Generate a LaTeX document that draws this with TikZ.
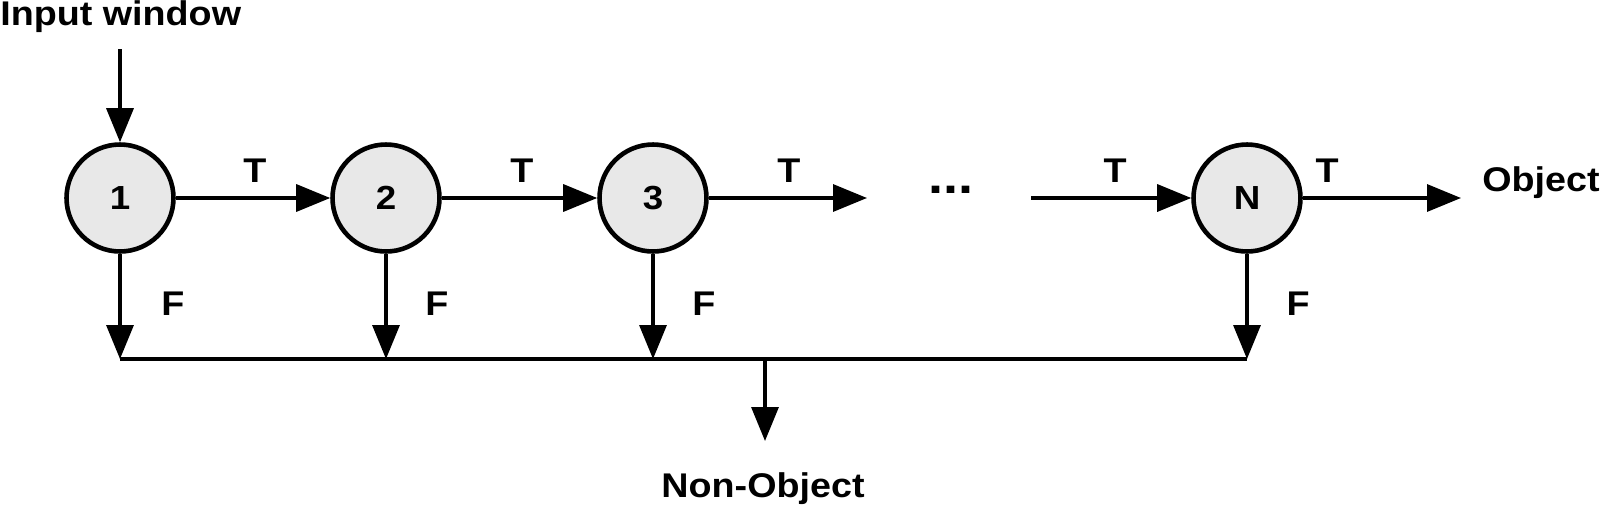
\documentclass[tikz,border=0pt]{standalone}
\usepackage{fontspec}
\setmainfont[FakeStretch=1.1]{Liberation Sans}
\usepackage{tikz}
\usetikzlibrary{arrows.meta, positioning}

\begin{document}
\begin{tikzpicture}[
    x=0.02cm, y=-0.02cm,
    stage/.style={circle, draw, line width=2.6pt, fill=gray!18, minimum size=2.14cm, inner sep=0pt, font=\fontsize{19}{19}\selectfont\bfseries},
    lbl/.style={inner sep=0pt, anchor=base, font=\fontsize{19.5}{19.5}\selectfont\bfseries},
    flow/.style={line width=1.9pt, -{Triangle[length=0.68cm, width=0.54cm]}}
]
\useasboundingbox (0,0) rectangle (1600,507);

\node[lbl, anchor=base west] (input) at (0,26) {Input window};
\coordinate (inputtop) at (120,49);

\node[stage] (s1) at (120,198) {1};
\node[stage] (s2) at (386,198) {2};
\node[stage] (s3) at (653,198) {3};
\node[stage] (sN) at (1247,198) {N};

\node[inner sep=0pt, font=\fontsize{28}{28}\selectfont\bfseries] (dots) at (951,190) {...};
\coordinate (gapL) at (867,198);
\coordinate (gapR) at (1031,198);
\coordinate (objend) at (1461,198);
\node[lbl, anchor=base west] (object) at (1482,191) {Object};

% bus for rejected windows
\coordinate (busL) at (120,359);
\coordinate (busR) at (1247,359);
\coordinate (busM) at (765,359);
\coordinate (nonend) at (765,441);
\node[lbl] (nonobject) at (763,497) {Non-Object};

% Main flow
\draw[flow] (inputtop) -- (s1);
\draw[flow] (s1) -- (s2);
\draw[flow] (s2) -- (s3);
\draw[flow] (s3) -- (gapL);
\draw[flow] (gapR) -- (sN);
\draw[flow] (sN) -- (objend);

\node[lbl] (t1) at (255,182) {T};
\node[lbl] (t2) at (522,182) {T};
\node[lbl] (t3) at (789,182) {T};
\node[lbl] (t4) at (1115,182) {T};
\node[lbl] (t5) at (1327,182) {T};

% False paths
\draw[flow] (s1) -- (s1 |- busL);
\draw[flow] (s2) -- (s2 |- busL);
\draw[flow] (s3) -- (s3 |- busL);
\draw[flow] (sN) -- (sN |- busL);
\draw[line width=1.9pt] (busL) -- (busR);
\draw[flow] (busM) -- (nonend);

\node[lbl] (f1) at (173,315) {F};
\node[lbl] (f2) at (437,315) {F};
\node[lbl] (f3) at (704,315) {F};
\node[lbl] (f4) at (1298,315) {F};

\end{tikzpicture}
\end{document}
